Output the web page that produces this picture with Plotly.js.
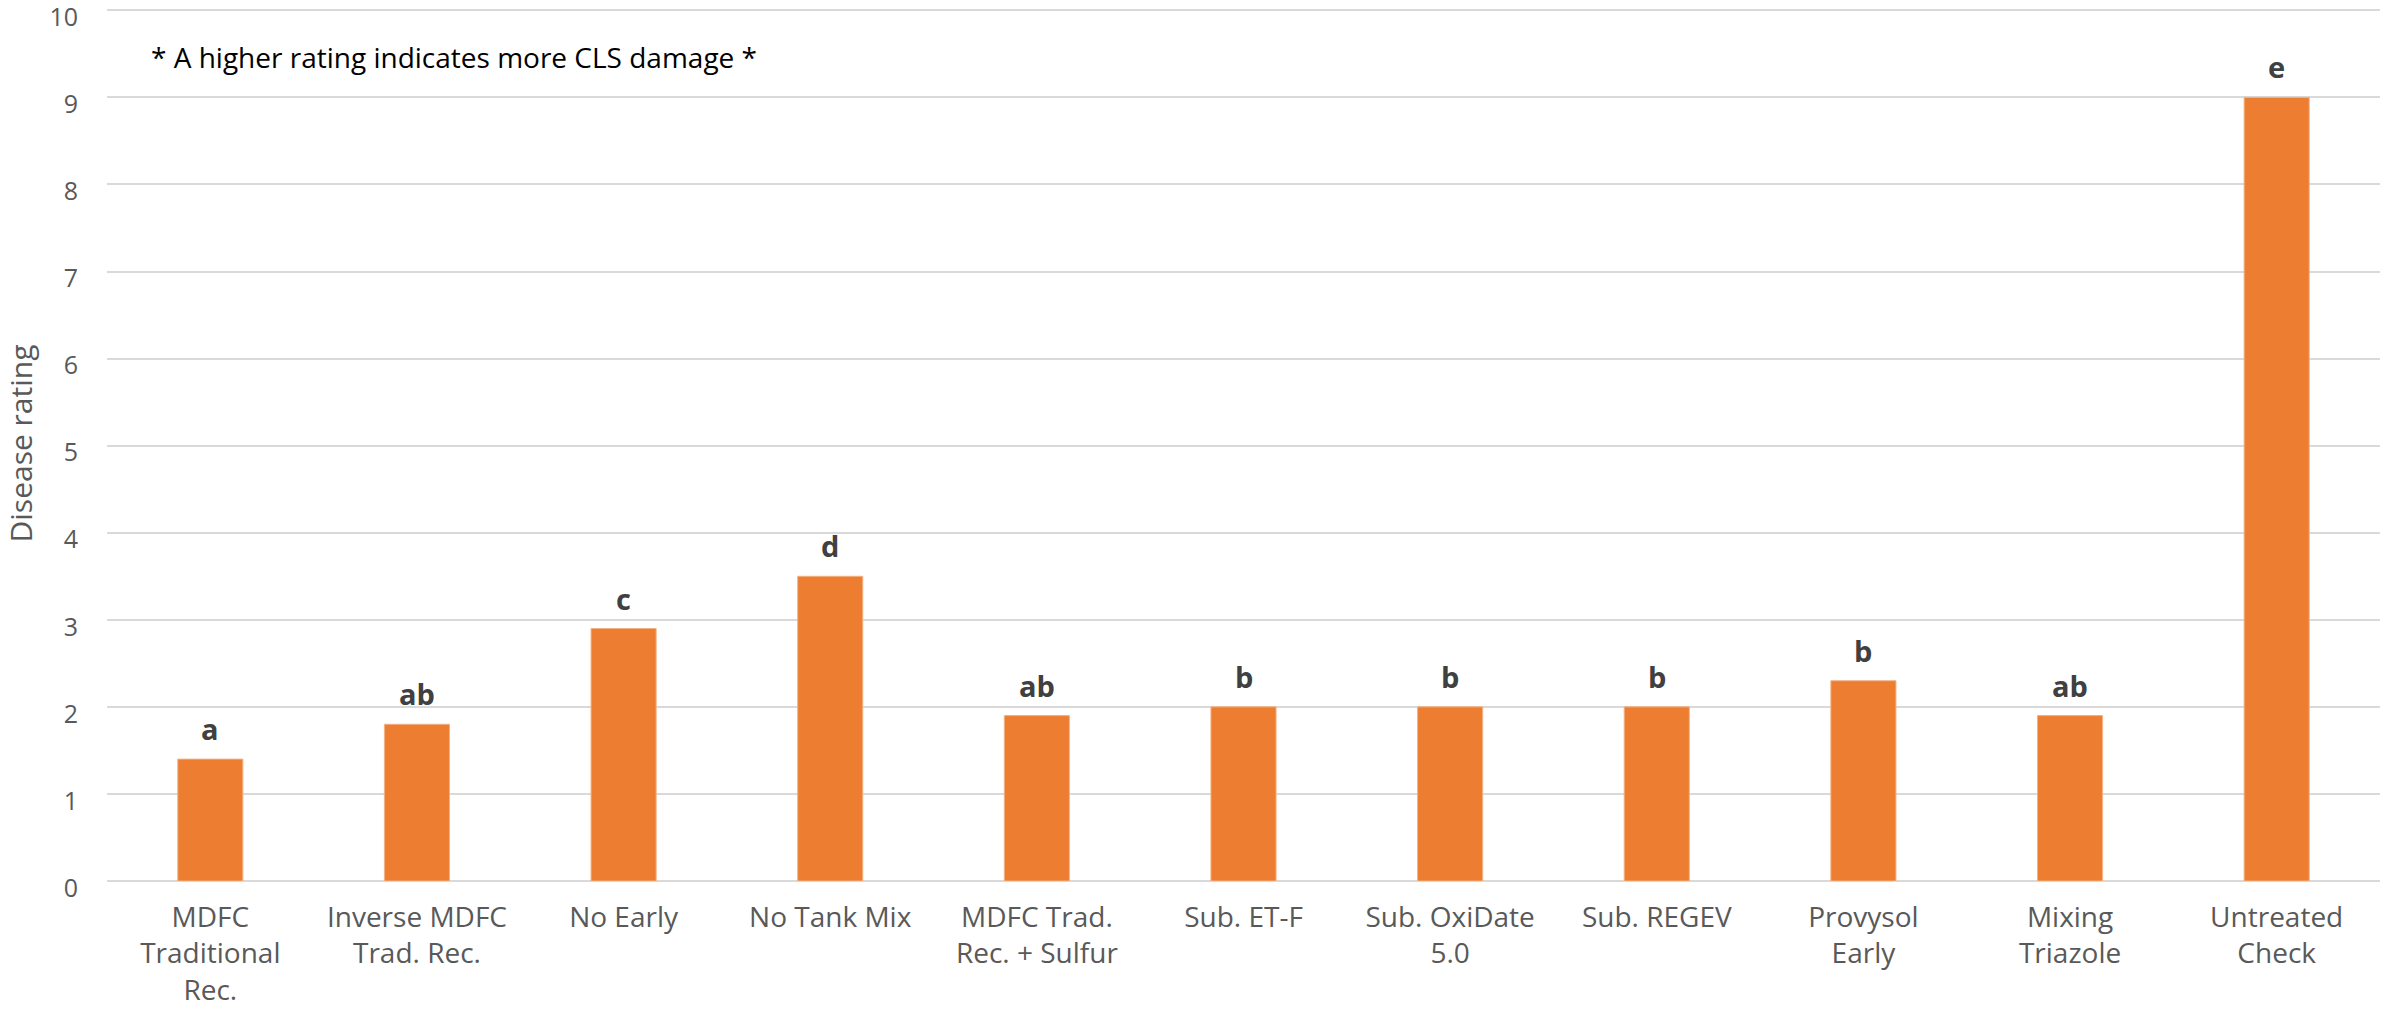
<!DOCTYPE html>
<html>
<head>
<meta charset="utf-8">
<script src="https://cdn.plot.ly/plotly-3.0.1.min.js"></script>
<style>html,body{margin:0;padding:0;background:#fff;}#chart{width:2382px;height:1015px;}</style>
</head>
<body>
<div id="chart"></div>
<script>
const categories = ["MDFC Traditional Rec.", "Inverse MDFC Trad. Rec.", "No Early", "No Tank Mix", "MDFC Trad. Rec. + Sulfur", "Sub. ET-F", "Sub. OxiDate 5.0", "Sub. REGEV", "Provysol Early", "Mixing Triazole", "Untreated Check"];
const tickLabels = ["MDFC<br>Traditional<br>Rec.", "Inverse MDFC<br>Trad. Rec.", "No Early", "No Tank Mix", "MDFC Trad.<br>Rec. + Sulfur", "Sub. ET-F", "Sub. OxiDate<br>5.0", "Sub. REGEV", "Provysol<br>Early", "Mixing<br>Triazole", "Untreated<br>Check"];
const ratings = [1.4, 1.8, 2.9, 3.5, 1.9, 2.0, 2.0, 2.0, 2.3, 1.9, 9.0];
const letters = ["a", "ab", "c", "d", "ab", "b", "b", "b", "b", "ab", "e"];
const yTicks = [0, 1, 2, 3, 4, 5, 6, 7, 8, 9, 10];
const noteText = "* A higher rating indicates more CLS damage *";
const yTitle = "Disease rating";

const FONT = "'Open Sans', 'Noto Sans', sans-serif";

const trace = {
  type: "bar",
  x: categories,
  y: ratings,
  marker: {color: "#ED7D31", line: {color: "#F4B183", width: 1}},
  hoverinfo: "x+y"
};

const letterAnns = categories.map((c, i) => ({
  x: c, y: ratings[i], xref: "x", yref: "y",
  text: "<b>" + letters[i] + "</b>",
  showarrow: false, yanchor: "bottom", xanchor: "center", yshift: 9,
  font: {family: FONT, size: 29, color: "#404040"}
}));

const layout = {
  width: 2382, height: 1015,
  margin: {l: 107, r: 2, t: 6, b: 134, pad: 0},
  paper_bgcolor: "#ffffff", plot_bgcolor: "#ffffff",
  showlegend: false,
  bargap: 0.685,
  font: {family: FONT, color: "#595959"},
  xaxis: {
    type: "category",
    tickvals: categories, ticktext: tickLabels,
    tickfont: {family: FONT, size: 28, color: "#595959"},
    showgrid: false, showline: false, zeroline: false, ticks: "",
    ticklabelstandoff: 17, automargin: false, ticklabeloverflow: "allow"
  },
  yaxis: {
    range: [0, 10.05], tickvals: yTicks,
    tickfont: {family: FONT, size: 25, color: "#595959"},
    showgrid: true, gridcolor: "#d9d9d9", gridwidth: 2,
    zeroline: true, zerolinecolor: "#d9d9d9", zerolinewidth: 2,
    showline: false, ticks: "", ticklabelstandoff: 28, automargin: false,
    ticklabeloverflow: "allow", ticklabelshift: 7,
    title: {text: yTitle, font: {family: FONT, size: 30, color: "#595959"}, standoff: 24}
  },
  annotations: [{
    x: 0.0185, y: 9.46, xref: "paper", yref: "y",
    text: noteText, showarrow: false, xanchor: "left", yanchor: "middle",
    font: {family: FONT, size: 28, color: "#000000"}
  }].concat(letterAnns)
};

Plotly.newPlot("chart", [trace], layout, {displayModeBar: false, staticPlot: true});
</script>
</body>
</html>
